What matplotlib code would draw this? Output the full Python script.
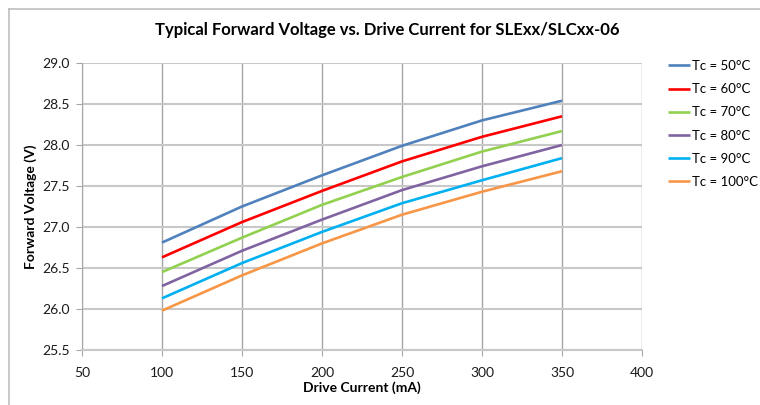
import matplotlib
matplotlib.use('Agg')
import matplotlib.pyplot as plt
from matplotlib.lines import Line2D

plt.rcParams['font.family'] = ['Lato', 'DejaVu Sans']

# drive current (mA)
current = [100, 150, 200, 250, 300, 350]

# forward voltage (V) per case temperature
vf_50 = [26.81, 27.25, 27.63, 27.99, 28.30, 28.54]
vf_60 = [26.63, 27.06, 27.44, 27.80, 28.10, 28.35]
vf_70 = [26.45, 26.87, 27.27, 27.61, 27.92, 28.17]
vf_80 = [26.28, 26.71, 27.09, 27.45, 27.74, 28.00]
vf_90 = [26.13, 26.56, 26.94, 27.29, 27.57, 27.84]
vf_100 = [25.98, 26.41, 26.80, 27.15, 27.43, 27.68]

labels = ['Tc = 50°C', 'Tc = 60°C', 'Tc = 70°C', 'Tc = 80°C', 'Tc = 90°C', 'Tc = 100°C']
colors = ['#4F81BD', '#FF0000', '#92D050', '#8064A2', '#00B0F0', '#F79646']

x_ticks = [50, 100, 150, 200, 250, 300, 350, 400]
y_ticks = [25.5, 26.0, 26.5, 27.0, 27.5, 28.0, 28.5, 29.0]

fig = plt.figure(figsize=(7.6, 4.05), dpi=100)
W, H = 760, 405
ax = fig.add_axes([82 / W, 1 - 350 / H, (642 - 82) / W, (350 - 63) / H])

series = [vf_50, vf_60, vf_70, vf_80, vf_90, vf_100]
for vals, lab, col in zip(series, labels, colors):
    ax.plot(current, vals, color=col, lw=1.9, label=lab, solid_capstyle='butt')

ax.set_xlim(50, 400)
ax.set_ylim(25.5, 29.0)
ax.set_xticks(x_ticks)
ax.set_yticks(y_ticks)
ax.set_yticklabels([f'{v:.1f}' for v in y_ticks])

# gridlines: vertical darker, horizontal lighter
ax.xaxis.grid(True, color='#a6a6a6', lw=1.0)
ax.yaxis.grid(True, color='#c8c8c8', lw=1.5)
ax.set_axisbelow(True)

for s in ['top', 'right']:
    ax.spines[s].set_visible(False)
ax.spines['left'].set_color('#a6a6a6')
ax.spines['bottom'].set_color('#c8c8c8')
ax.spines['bottom'].set_linewidth(1.5)
ax.tick_params(axis='both', length=4, color='#a6a6a6', labelsize=10,
               labelcolor='#1a1a1a')
ax.tick_params(axis='x', pad=8)
ax.tick_params(axis='y', pad=5)

ax.set_xlabel('Drive Current (mA)', fontsize=10, fontweight='bold')
ax.set_ylabel('Forward Voltage (V)', fontsize=10, fontweight='bold')
ax.xaxis.set_label_coords(0.5, (350 - 388) / 287, transform=ax.transAxes)
ax.yaxis.set_label_coords((31 - 82) / 560, 0.5, transform=ax.transAxes)
ax.xaxis.label.set_va('center')
ax.yaxis.label.set_va('center')

fig.text(387 / W, 1 - 30 / H, 'Typical Forward Voltage vs. Drive Current for SLExx/SLCxx-06',
         ha='center', va='center', fontsize=12, fontweight='bold')

ax.legend(loc='upper left', bbox_to_anchor=(668 / W, 1 - 60 / H),
          bbox_transform=fig.transFigure, frameon=False, fontsize=9.5,
          handlelength=1.7, handletextpad=0.1, labelspacing=0.85,
          borderaxespad=0, borderpad=0)

# outer chart frame (left and top edges visible)
fig.add_artist(Line2D([8.5 / W, 8.5 / W], [0, 1 - 8.5 / H], transform=fig.transFigure,
                      color='#bfbfbf', lw=1.2))
fig.add_artist(Line2D([8.5 / W, 1], [1 - 8.5 / H, 1 - 8.5 / H], transform=fig.transFigure,
                      color='#bfbfbf', lw=1.2))

fig.savefig('out.png', dpi=100)
